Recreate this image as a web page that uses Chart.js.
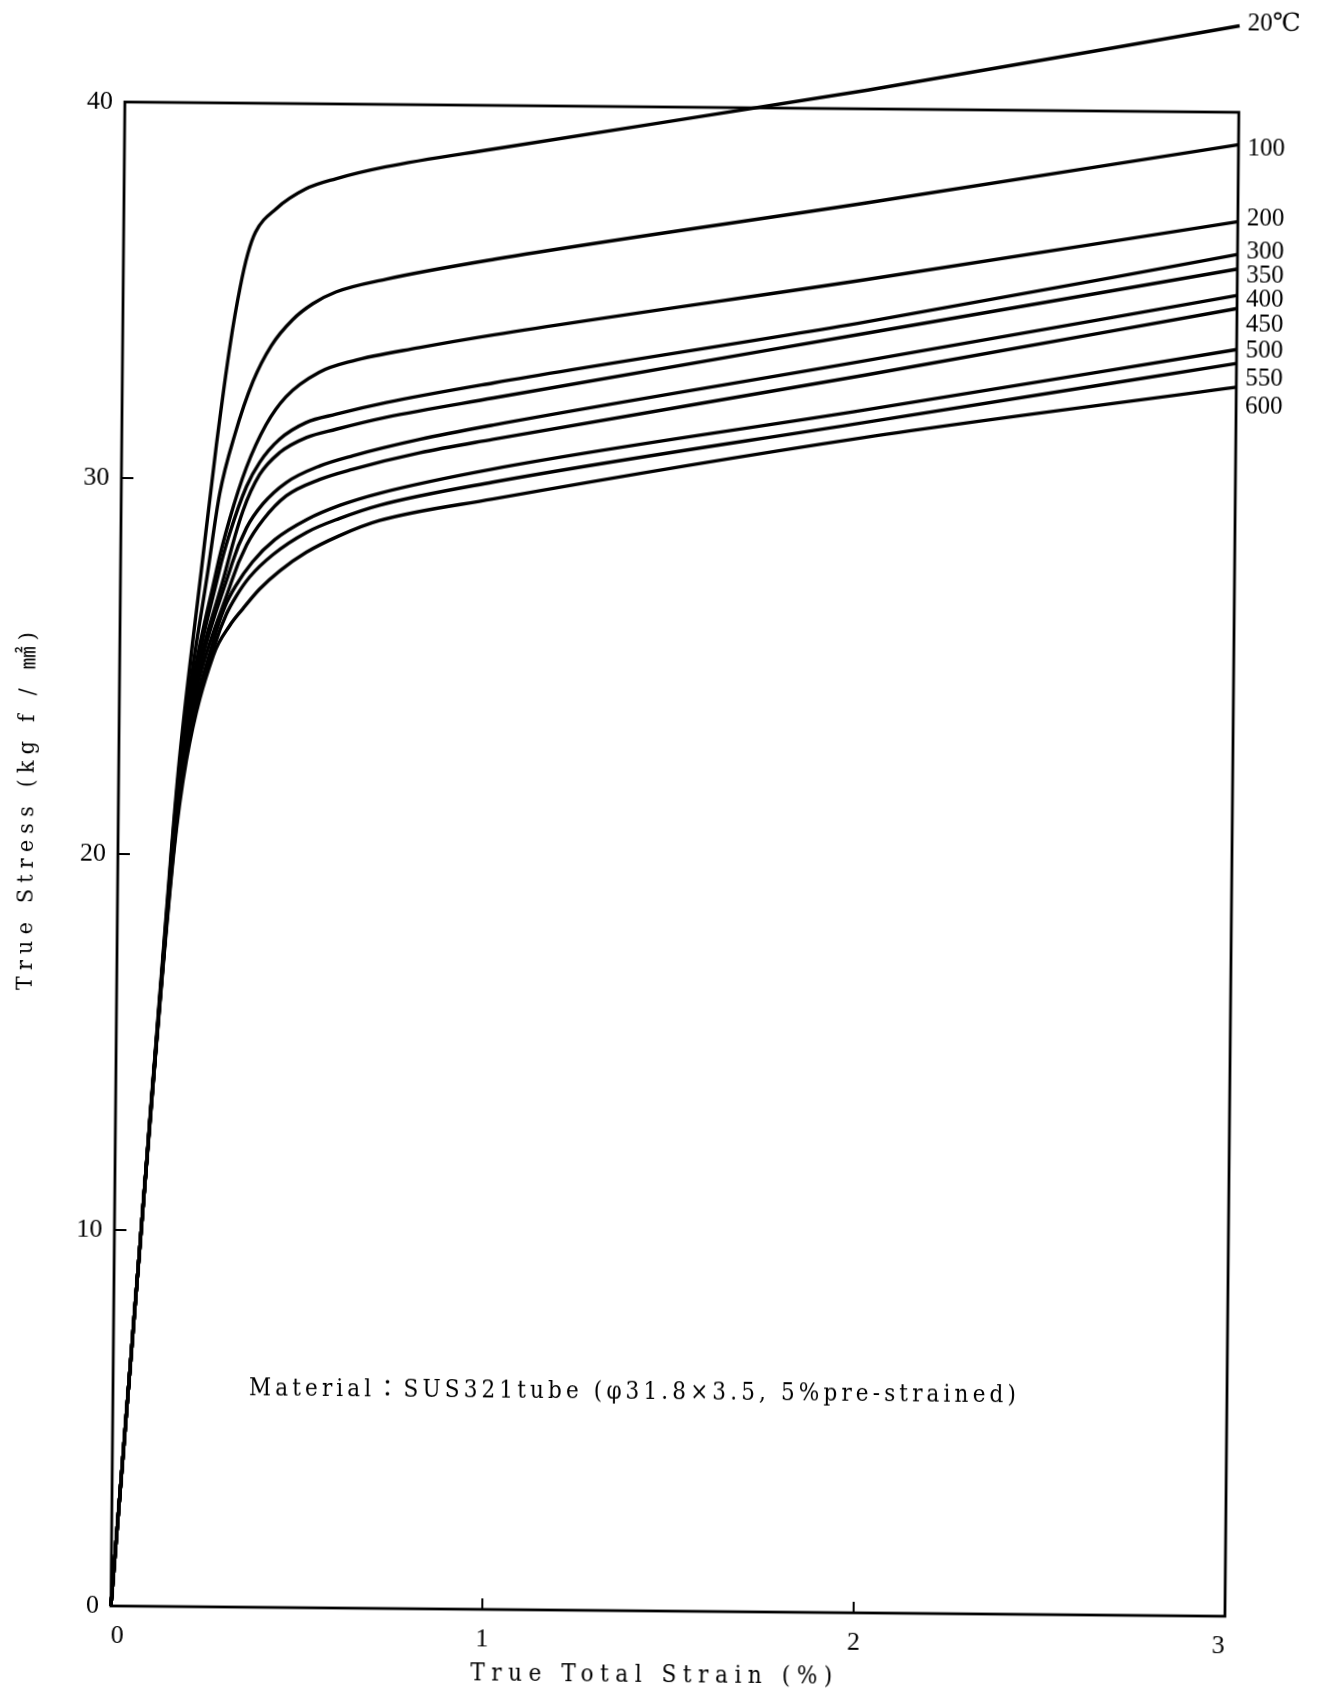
<!DOCTYPE html>
<html>
<head>
<meta charset="utf-8">
<title>True stress - true total strain, SUS321 tube</title>
<script src="https://cdn.jsdelivr.net/npm/chart.js@4.4.1/dist/chart.umd.min.js"></script>
<style>
  html, body { margin: 0; padding: 0; background: #fff; overflow: hidden; }
  #sheet { width: 1321px; height: 1695px; transform: rotate(0.53deg); transform-origin: 50% 50%; }
  canvas { display: block; }
</style>
</head>
<body>
<div id="sheet"><canvas id="chart" width="1321" height="1695"></canvas></div>
<script>
// Axis ticks
const xTickValues = [0, 1, 2, 3];
const yTickValues = [0, 10, 20, 30, 40];

// Test temperatures (curve labels)
const seriesLabels = ['20℃', '100', '200', '300', '350', '400', '450', '500', '550', '600'];

// [true total strain (%), true stress (kgf/mm²)] for each temperature
const curve20 = [[0,0],[0.072,10],[0.143,20],[0.163,22.5],[0.218,27.6],[0.255,30.9],[0.29,33.6],[0.315,35.1],[0.335,36.0],[0.355,36.57],[0.409,37.19],[0.489,37.73],[0.570,38.01],[0.704,38.34],[1,38.85],[2,40.5],[3,42.3]];
const curve100 = [[0,0],[0.072,10],[0.144,20],[0.165,22.5],[0.236,27.6],[0.265,29.6],[0.305,31.2],[0.352,32.6],[0.4,33.55],[0.457,34.25],[0.511,34.68],[0.573,35.0],[0.707,35.35],[1,35.91],[2,37.5],[3,39.14]];
const curve200 = [[0,0],[0.072,10],[0.145,20],[0.167,22.5],[0.259,27.6],[0.293,28.95],[0.336,30.3],[0.388,31.45],[0.441,32.2],[0.530,32.86],[0.620,33.17],[0.799,33.54],[1,33.9],[2,35.46],[3,37.09]];
const curve300 = [[0,0],[0.072,10],[0.145,20],[0.168,22.5],[0.267,27.6],[0.293,28.55],[0.337,29.8],[0.372,30.45],[0.425,31.07],[0.496,31.52],[0.577,31.75],[0.711,32.07],[1,32.62],[2,34.33],[3,36.22]];
const curve350 = [[0,0],[0.072,10],[0.146,20],[0.169,22.5],[0.284,27.6],[0.328,29.15],[0.372,30.12],[0.425,30.71],[0.497,31.12],[0.577,31.35],[0.711,31.68],[1,32.22],[2,34.03],[3,35.83]];
const curve400 = [[0,0],[0.072,10],[0.146,20],[0.171,22.5],[0.3,27.75],[0.338,28.7],[0.382,29.35],[0.444,29.92],[0.534,30.37],[0.623,30.65],[0.802,31.1],[1,31.5],[2,33.3],[3,35.13]];
const curve450 = [[0,0],[0.072,10],[0.147,20],[0.173,22.5],[0.3,27.3],[0.339,28.25],[0.383,28.93],[0.445,29.57],[0.534,30.01],[0.623,30.29],[0.802,30.74],[1,31.12],[2,32.92],[3,34.78]];
const curve500 = [[0,0],[0.072,10],[0.148,20],[0.176,22.5],[0.252,25.7],[0.282,26.6],[0.31,27.15],[0.355,27.8],[0.415,28.4],[0.502,28.95],[0.59,29.33],[0.696,29.66],[1,30.33],[2,31.99],[3,33.69]];
const curve550 = [[0,0],[0.072,10],[0.149,20],[0.179,22.5],[0.256,25.6],[0.286,26.4],[0.313,26.9],[0.348,27.4],[0.41,28.0],[0.5,28.6],[0.589,28.98],[0.696,29.34],[1,29.98],[2,31.66],[3,33.32]];
const curve600 = [[0,0],[0.072,10],[0.150,20],[0.182,22.5],[0.252,25.3],[0.296,26.11],[0.331,26.56],[0.375,27.08],[0.429,27.57],[0.5,28.07],[0.589,28.52],[0.696,28.93],[1,29.53],[2,31.26],[3,32.69]];

const curves = [curve20, curve100, curve200, curve300, curve350, curve400, curve450, curve500, curve550, curve600];

// Vertical nudge (px) of each end label relative to its curve end
const labelNudge = [-2, 4, -3, -3, 7, 4, 16, 1, 15, 20];

const SERIF = '"Liberation Serif", "DejaVu Serif", "Noto Sans CJK JP", serif';
const TYPE = '"DejaVu Serif Condensed", "DejaVu Serif", "Liberation Serif", "Noto Sans CJK JP", serif';

// Draw text stretched by letter spacing to a given width
function spacedText(ctx, text, x, y, width, align) {
  const n = [...text].length;
  ctx.letterSpacing = '0px';
  const w0 = ctx.measureText(text).width;
  const gap = n > 1 ? Math.max(0, (width - w0) / (n - 1)) : 0;
  ctx.letterSpacing = gap.toFixed(2) + 'px';
  ctx.textAlign = 'left';
  const start = align === 'center' ? x - width / 2 : x;
  ctx.fillText(text, start, y);
  ctx.letterSpacing = '0px';
}

// Plot frame and inward tick marks
const framePlugin = {
  id: 'frame',
  afterDatasetsDraw(chart) {
    const ctx = chart.ctx;
    const { left, right, top, bottom } = chart.chartArea;
    const xs = chart.scales.x, ys = chart.scales.y;
    ctx.save();
    ctx.strokeStyle = '#000';
    ctx.lineWidth = 2.8;
    ctx.strokeRect(left, top, right - left, bottom - top);
    ctx.lineWidth = 2;
    ctx.beginPath();
    xTickValues.slice(1, -1).forEach(v => {
      const px = xs.getPixelForValue(v);
      ctx.moveTo(px, bottom);
      ctx.lineTo(px, bottom - 11);
    });
    yTickValues.slice(1, -1).forEach(v => {
      const py = ys.getPixelForValue(v);
      ctx.moveTo(left, py);
      ctx.lineTo(left + 12, py);
    });
    ctx.stroke();
    ctx.restore();
  }
};

// Curve labels, axis titles and the material note
const textPlugin = {
  id: 'texts',
  afterDraw(chart) {
    const ctx = chart.ctx;
    const { right } = chart.chartArea;
    ctx.save();
    ctx.fillStyle = '#000';
    ctx.textBaseline = 'middle';

    ctx.font = '25px ' + SERIF;
    ctx.textAlign = 'left';
    chart.data.datasets.forEach((ds, i) => {
      const meta = chart.getDatasetMeta(i);
      const end = meta.data[meta.data.length - 1];
      ctx.fillText(seriesLabels[i], right + (i === 0 ? 8 : 9), end.y + labelNudge[i]);
    });

    // y axis title
    ctx.save();
    ctx.translate(27, 817);
    ctx.rotate(-Math.PI / 2);
    ctx.font = '23px ' + TYPE;
    spacedText(ctx, 'True Stress (kg f / ㎟)', 0, 0, 358, 'center');
    ctx.restore();

    // x axis title
    ctx.font = '24px ' + TYPE;
    spacedText(ctx, 'True Total Strain (%)', 659, 1676, 362, 'center');

    // material note
    ctx.font = '24px ' + TYPE;
    spacedText(ctx, 'Material：SUS321tube (φ31.8×3.5, 5%pre-strained)', 254, 1393, 767, 'left');

    ctx.restore();
  }
};

new Chart(document.getElementById('chart'), {
  type: 'line',
  data: {
    datasets: curves.map((c, i) => ({
      label: seriesLabels[i],
      data: c.map(([x, y]) => ({ x, y })),
      borderColor: '#000',
      borderWidth: 3.4,
      pointRadius: 0,
      fill: false,
      cubicInterpolationMode: 'monotone',
      clip: false
    }))
  },
  options: {
    responsive: false,
    animation: false,
    devicePixelRatio: 1,
    layout: { padding: { top: 107, right: 89, bottom: 0, left: 0 } },
    plugins: { legend: { display: false }, tooltip: { enabled: false } },
    scales: {
      x: {
        type: 'linear', min: 0, max: 3,
        afterBuildTicks: s => { s.ticks = xTickValues.map(v => ({ value: v })); },
        afterFit: s => { s.height = 84; },
        grid: { display: false, drawTicks: false },
        border: { display: false },
        ticks: { color: '#000', font: { family: SERIF, size: 26 }, padding: 15, align: 'inner', maxRotation: 0, autoSkip: false }
      },
      y: {
        type: 'linear', min: 0, max: 40,
        afterBuildTicks: s => { s.ticks = yTickValues.map(v => ({ value: v })); },
        afterFit: s => { s.width = 118; },
        grid: { display: false, drawTicks: false },
        border: { display: false },
        ticks: { color: '#000', font: { family: SERIF, size: 26 }, padding: 12, autoSkip: false }
      }
    }
  },
  plugins: [framePlugin, textPlugin]
});
</script>
</body>
</html>
